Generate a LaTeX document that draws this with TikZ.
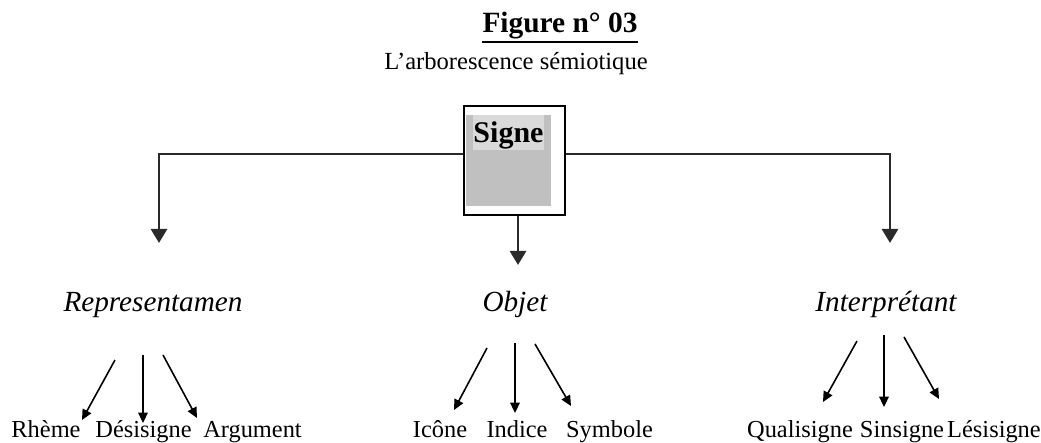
\documentclass[tikz,border=0pt]{standalone}
\usepackage{fontspec}
\setmainfont{Liberation Serif}
\usetikzlibrary{arrows.meta}
\definecolor{silver}{HTML}{C0C0C0}
\definecolor{lightsilver}{HTML}{DADADA}
\definecolor{linegray}{HTML}{2A2A2A}
\begin{document}
\begin{tikzpicture}[x=0.5pt,y=-0.5pt,
  bigarrow/.style={draw=linegray,line width=1.4pt,-{Triangle[width=8pt,length=7pt]}},
  smallarrow/.style={line width=0.8pt,-{Triangle[width=4.8pt,length=5.2pt]}},
  italabel/.style={font=\fontsize{14.6}{17}\selectfont\itshape,inner sep=0pt,anchor=base},
  leaf/.style={font=\fontsize{12.2}{15}\selectfont,inner sep=0pt,anchor=base},
]
\useasboundingbox (0,0) rectangle (1041,443);

% title
\node[anchor=base,inner sep=0pt,font=\fontsize{14.7}{17}\selectfont\bfseries] (title) at (560,33) {Figure n° 03};
\draw[line width=1.2pt] ([yshift=-4.5pt]title.base west) -- ([yshift=-4.5pt]title.base east);
\node[anchor=base,inner sep=0pt,font=\fontsize{12.3}{15}\selectfont] (subtitle) at (516,70) {L’arborescence sémiotique};

% Signe box
\fill[silver] (466,115) rectangle (551,206);
\fill[lightsilver] (473,115) rectangle (544,150);
\node[draw,line width=1.2pt,minimum width=50.5pt,minimum height=54.5pt,inner sep=0pt] (signe) at (514.5,160.5) {};
\node[anchor=base,inner sep=0pt,font=\fontsize{15}{18}\selectfont\bfseries] (signetxt) at (508.5,143) {Signe};

% main connectors
\coordinate (cL) at (159,154);
\coordinate (cR) at (890,154);
\coordinate (tL) at (159,243);
\coordinate (tR) at (890,243);
\coordinate (tM) at (518,265);
\draw[bigarrow] (signe.west |- cL) -- (cL) -- (tL);
\draw[bigarrow] (signe.east |- cR) -- (cR) -- (tR);
\draw[bigarrow] (signe.south -| tM) -- (tM);

% second level
\node[italabel] (rep) at (153,312) {Representamen};
\node[italabel] (obj) at (515,312) {Objet};
\node[italabel] (int) at (886,312) {Interprétant};

% leaves
\node[leaf] (rheme) at (46,438) {Rhème};
\node[leaf] (desi) at (143.5,438) {Désisigne};
\node[leaf] (arg) at (252.5,438) {Argument};
\node[leaf] (icone) at (440,438) {Icône};
\node[leaf] (indice) at (517,438) {Indice};
\node[leaf] (symb) at (609.5,438) {Symbole};
\node[leaf] (quali) at (800,438) {Qualisigne};
\node[leaf] (sins) at (902,438) {Sinsigne};
\node[leaf] (lesi) at (994,438) {Lésisigne};

% leaf arrows
\coordinate (r1s) at (115,360); \coordinate (r1e) at (82,420);
\coordinate (r2s) at (143,355); \coordinate (r2e) at (143,423);
\coordinate (r3s) at (163,355); \coordinate (r3e) at (197,418);
\coordinate (o1s) at (487,348); \coordinate (o1e) at (454,410);
\coordinate (o2s) at (515,343); \coordinate (o2e) at (515,413);
\coordinate (o3s) at (535,344); \coordinate (o3e) at (571,406);
\coordinate (i1s) at (857,341); \coordinate (i1e) at (823,402);
\coordinate (i2s) at (884,335); \coordinate (i2e) at (884,407);
\coordinate (i3s) at (904,337); \coordinate (i3e) at (939,399);
\foreach \a in {r1,r2,r3,o1,o2,o3,i1,i2,i3}
  \draw[smallarrow] (\a s) -- (\a e);
\end{tikzpicture}
\end{document}
